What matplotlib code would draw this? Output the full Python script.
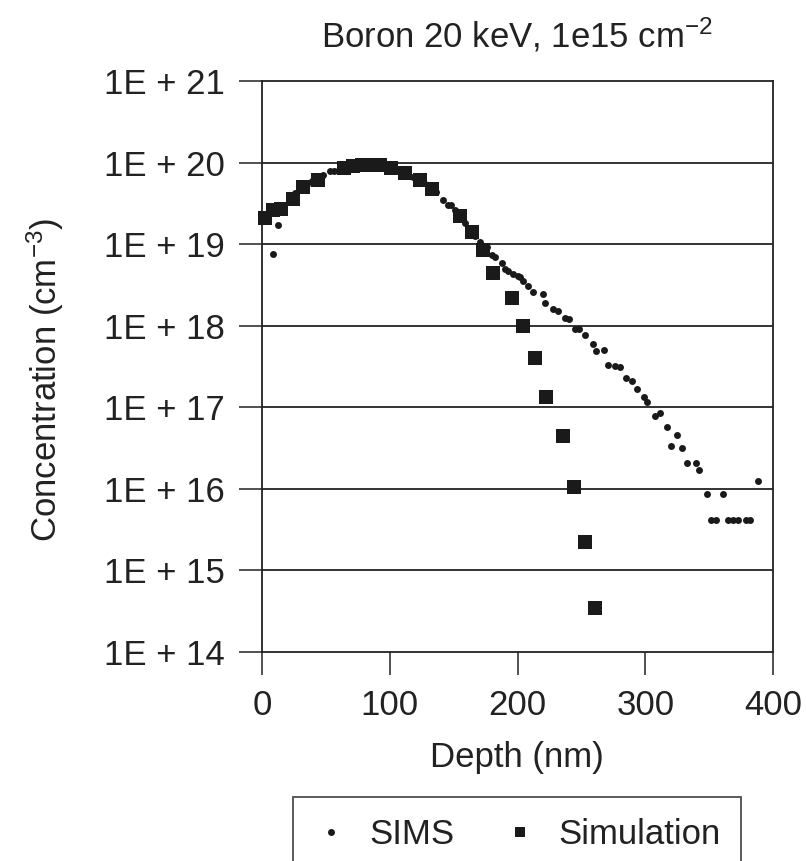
import matplotlib
matplotlib.use("Agg")
import matplotlib.pyplot as plt
from matplotlib.ticker import FixedLocator, FixedFormatter, NullLocator

plt.rcParams['font.family'] = ['Liberation Sans', 'DejaVu Sans']
plt.rcParams['mathtext.fontset'] = 'custom'
plt.rcParams['mathtext.rm'] = 'Liberation Sans'
plt.rcParams['mathtext.it'] = 'Liberation Sans'
plt.rcParams['mathtext.default'] = 'regular'

# ---- data ----
sims_depth = [2, 8.4, 12.8, 17, 21, 26, 30, 35, 39, 44, 48, 53, 56, 60, 65, 69, 74, 78,
              83, 87, 91, 96, 100, 104, 109, 113, 118, 122, 127, 131, 136, 141.9, 145.6,
              147.7, 151, 155, 159, 163, 167, 171, 175.9, 179.8, 182.4, 187.6, 190.2,
              192.8, 196.7, 200.6, 202, 204.5, 208.5, 212.4, 219.7, 221.5, 227.6, 231.9,
              237.2, 240.5, 245.0, 248.4, 252.8, 259.3, 261.4, 267.7, 271.1, 276.3, 280.2,
              284.9, 289.4, 293.3, 299.0, 301.6, 307.6, 311.5, 316.8, 320.2, 325.1, 329.0,
              332.9, 339.7, 341.8, 348.1, 351.5, 355.4, 360.6, 364.8, 368.7, 372.6, 378.9,
              382.0, 388.0]
sims_conc = [2.3e19, 7.6e18, 1.74e19, 3.0e19, 3.4e19, 4.2e19, 4.8e19, 5.5e19, 6.0e19, 6.6e19,
             7.0e19, 7.8e19, 7.8e19, 8.2e19, 8.6e19, 8.9e19, 9.2e19, 9.4e19, 9.5e19, 9.5e19,
             9.4e19, 9.2e19, 8.9e19, 8.4e19, 7.9e19, 7.3e19, 6.7e19, 6.2e19, 5.6e19, 5.0e19,
             4.4e19, 3.5e19, 3.0e19, 3.0e19, 2.6e19, 2.2e19, 1.8e19, 1.5e19, 1.25e19, 1.05e19,
             9.3e18, 7.4e18, 6.9e18, 5.8e18, 5.0e18, 4.7e18, 4.3e18, 4.1e18, 4.0e18, 3.5e18,
             3.1e18, 2.6e18, 2.45e18, 1.9e18, 1.6e18, 1.5e18, 1.23e18, 1.2e18, 9.1e17, 9.1e17,
             7.8e17, 6.0e17, 4.9e17, 5.0e17, 3.3e17, 3.2e17, 3.1e17, 2.3e17, 2.1e17, 1.66e17,
             1.35e17, 1.15e17, 7.8e16, 8.5e16, 5.8e16, 3.4e16, 4.6e16, 3.2e16, 2.1e16, 2.1e16,
             1.7e16, 8.7e15, 4.1e15, 4.1e15, 8.7e15, 4.1e15, 4.1e15, 4.1e15, 4.1e15, 4.1e15,
             1.26e16]

sim_depth = [2, 9, 15, 24, 32, 44, 64, 71, 78, 85, 92, 101, 112, 124, 133, 155, 164, 173,
             181, 196, 204, 214, 222, 236, 244, 253, 261]
sim_conc = [2.1e19, 2.6e19, 2.7e19, 3.6e19, 5.0e19, 6.2e19, 8.5e19, 9.1e19, 9.3e19, 9.3e19,
            9.3e19, 8.5e19, 7.4e19, 6.2e19, 4.8e19, 2.2e19, 1.4e19, 8.5e18, 4.4e18, 2.2e18,
            1.0e18, 4.0e17, 1.35e17, 4.4e16, 1.05e16, 2.2e15, 3.5e14]

x_ticks = [0, 100, 200, 300, 400]
y_ticks = [1e14, 1e15, 1e16, 1e17, 1e18, 1e19, 1e20, 1e21]
y_tick_labels = ['1E + 14', '1E + 15', '1E + 16', '1E + 17', '1E + 18', '1E + 19',
                 '1E + 20', '1E + 21']

title = 'Boron 20 keV, 1e15 cm$^{-2}$'
xlabel = 'Depth (nm)'
ylabel = 'Concentration (cm$^{-3}$)'

# ---- figure ----
W, H = 806, 861
FS = 25
fig = plt.figure(figsize=(W / 100, H / 100), dpi=100)
L, R, T, B = 262, 773, 81, 652
ax = fig.add_axes([L / W, 1 - B / H, (R - L) / W, (B - T) / H])

ax.set_yscale('log')
ax.set_xlim(0, 400)
ax.set_ylim(1e14, 1e21)

ax.plot(sims_depth, sims_conc, linestyle='none', marker='o', markersize=5,
        color='#1a1a1a', markeredgewidth=0, label='SIMS', clip_on=False, zorder=3)
ax.plot(sim_depth, sim_conc, linestyle='none', marker='s', markersize=10.5,
        color='#1a1a1a', markeredgewidth=0, label='Simulation', clip_on=False, zorder=4)

ax.yaxis.set_major_locator(FixedLocator(y_ticks))
ax.yaxis.set_major_formatter(FixedFormatter(y_tick_labels))
ax.yaxis.set_minor_locator(NullLocator())
ax.xaxis.set_major_locator(FixedLocator(x_ticks))

for y in y_ticks[1:-1]:
    ax.axhline(y, color='#333333', linewidth=1.4, zorder=1)

for s in ax.spines.values():
    s.set_linewidth(1.3)
    s.set_color('#222222')

ax.tick_params(axis='both', which='major', direction='out', length=16.5, width=1.1,
               color='#222222', labelsize=FS, labelcolor='#222222')
ax.tick_params(axis='y', pad=10)
ax.tick_params(axis='x', pad=10)

fig.text(517 / W, 1 - 35 / H, title, ha='center', va='center', fontsize=FS, color='#222222')
fig.text(517 / W, 1 - 757 / H, xlabel, ha='center', va='center', fontsize=FS, color='#222222')
fig.text(45 / W, 1 - 380 / H, ylabel, ha='center', va='center', rotation=90,
         fontsize=FS, color='#222222')

leg = fig.legend(loc='upper center', bbox_to_anchor=(517 / W, 1 - 797 / H), ncol=2,
                 fontsize=FS, frameon=True, fancybox=False, edgecolor='#222222',
                 borderpad=0.6, borderaxespad=0.0, columnspacing=1.4, handletextpad=0.6,
                 handlelength=1.0, markerscale=1.0)
leg.get_frame().set_linewidth(1.3)
for t in leg.get_texts():
    t.set_color('#222222')
leg.legend_handles[1].set_markersize(7.5)

fig.savefig('out.png', dpi=100)
